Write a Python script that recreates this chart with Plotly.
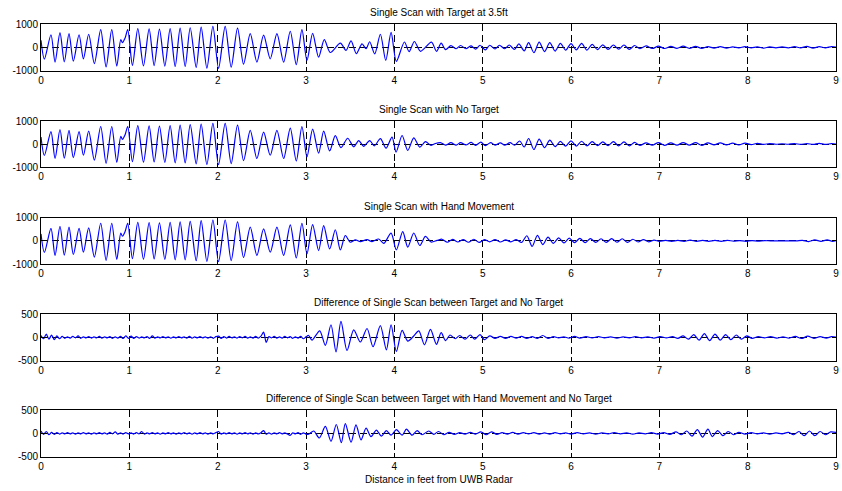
import numpy as np
import plotly.graph_objects as go

# ---------------- data ----------------
TITLES = [
    "Single Scan with Target at 3.5ft",
    "Single Scan with No Target",
    "Single Scan with Hand Movement",
    "Difference of Single Scan between Target and No Target",
    "Difference of Single Scan between Target with Hand Movement and No Target",
]
X_LABEL = "Distance in feet from UWB Radar"
X_TICKS = [0, 1, 2, 3, 4, 5, 6, 7, 8, 9]
Y_TICKS_BIG = [-1000, 0, 1000]
Y_TICKS_SMALL = [-500, 0, 500]

# shared clutter (0 - 3 ft) seen in all three raw scans: (distance, amplitude) extrema
CLUTTER = [(0.000, 300), (0.038, -500), (0.113, 540), (0.159, -630), (0.215, 630), (0.264, -620),
           (0.317, 590), (0.366, -590), (0.431, 540), (0.480, -490), (0.540, 560), (0.604, -700),
           (0.676, 760), (0.737, -840), (0.801, 760), (0.858, -800), (0.903, 330), (0.922, 200),
           (0.952, 400), (0.982, 760), (1.035, -770), (1.096, 800), (1.160, -790), (1.224, 790),
           (1.281, -780), (1.341, 780), (1.402, -800), (1.462, 800), (1.519, -820), (1.575, 820),
           (1.632, -820), (1.689, 840), (1.757, -860), (1.813, 870), (1.878, -890), (1.946, 900),
           (2.010, -900), (2.085, 900), (2.153, -850), (2.225, 820), (2.293, -720), (2.369, 590),
           (2.444, -630), (2.520, 520), (2.595, -490), (2.671, 590), (2.747, -630), (2.822, 690),
           (2.890, -740), (2.954, 760), (3.011, -560)]

TARGET_TAIL = [(3.075, 600), (3.143, -420), (3.207, 330), (3.275, -220), (3.389, 180), (3.453, -130),
               (3.510, 280), (3.570, -270), (3.634, 150), (3.680, -60), (3.721, 240), (3.778, -280),
               (3.842, 560), (3.903, -560), (3.963, 640), (4.023, -600), (4.114, 230), (4.167, -180),
               (4.227, 250), (4.296, -170), (4.420, 220), (4.478, -170), (4.53, 180), (4.58, -100),
               (4.64, 70), (4.70, -60), (4.75, 80), (4.81, -60), (4.87, 60), (4.92, -80), (4.97, 90),
               (5.03, -110), (5.08, 90), (5.14, -70), (5.19, 90), (5.25, -60), (5.30, 100), (5.36, -90),
               (5.41, 150), (5.47, -150), (5.52, 200), (5.58, -230), (5.64, 220), (5.70, -180),
               (5.76, 200), (5.82, -160), (5.88, 170), (5.94, -120), (6.00, 160), (6.06, -110),
               (6.12, 170), (6.18, -120), (6.24, 130), (6.30, -100), (6.36, 110), (6.42, -90),
               (6.48, 100), (6.54, -80), (6.60, 100), (6.66, -90), (6.72, 80), (6.78, -60), (6.85, 60),
               (6.92, -50), (6.99, 50), (7.06, -50), (7.13, 40), (7.20, -40), (7.27, 50), (7.34, -40),
               (7.41, 40), (7.48, -40), (7.55, 30), (7.62, -30), (7.69, 30), (7.76, -30), (7.83, 20),
               (7.90, -20), (7.97, 30), (8.04, -20), (8.11, 20), (8.18, -30), (8.25, 20), (8.32, -20),
               (8.39, 20), (8.46, -20), (8.53, 30), (8.60, -20), (8.67, 40), (8.74, -30), (8.81, 30),
               (8.88, -20), (8.95, 30), (9.00, 10)]

NOTARGET_TAIL = [(3.075, 650), (3.143, -400), (3.200, 560), (3.268, -300), (3.332, 360), (3.396, -160),
                 (3.472, 250), (3.540, -120), (3.597, 150), (3.653, -100), (3.721, 150), (3.774, -80),
                 (3.842, 230), (3.906, -180), (3.974, 300), (4.020, -350), (4.088, 370), (4.152, -280),
                 (4.220, 270), (4.288, -140), (4.352, 100), (4.416, -60), (4.465, 20), (4.522, 60),
                 (4.58, -50), (4.64, 60), (4.70, -50), (4.75, 60), (4.81, -40), (4.87, 70), (4.92, -60),
                 (4.98, 80), (5.03, -70), (5.09, 60), (5.14, -50), (5.20, 50), (5.25, -50), (5.31, 60),
                 (5.36, -50), (5.42, 130), (5.47, -130), (5.52, 240), (5.58, -240), (5.64, 210),
                 (5.70, -160), (5.76, 170), (5.82, -110), (5.88, 110), (5.94, -90), (6.00, 140),
                 (6.06, -90), (6.12, 120), (6.18, -80), (6.24, 100), (6.30, -70), (6.36, 90), (6.42, -70),
                 (6.48, 100), (6.54, -80), (6.60, 90), (6.66, -80), (6.72, 70), (6.78, -60), (6.85, 50),
                 (6.92, -50), (6.99, 60), (7.06, -60), (7.13, 50), (7.20, -50), (7.27, 60), (7.34, -50),
                 (7.41, 60), (7.48, -60), (7.55, 50), (7.62, -40), (7.69, 50), (7.76, -40), (7.83, 40),
                 (7.90, -40), (7.97, 40), (8.04, -30), (8.11, 30), (8.18, -20), (8.25, 20), (8.32, -10),
                 (8.39, 10), (8.46, -10), (8.53, 20), (8.60, -20), (8.67, 20), (8.74, -20), (8.81, 30),
                 (8.88, -20), (8.95, 20), (9.00, 0)]

HAND_TAIL = [(3.075, 700), (3.143, -420), (3.200, 660), (3.268, -350), (3.332, 480), (3.389, -390),
             (3.445, 230), (3.502, -60), (3.559, 40), (3.615, -30), (3.691, 50), (3.748, -30),
             (3.823, 80), (3.880, -110), (3.963, 330), (4.023, -390), (4.095, 400), (4.152, -270),
             (4.220, 340), (4.288, -200), (4.352, 190), (4.416, -50), (4.484, 20), (4.54, 70),
             (4.60, -60), (4.66, 60), (4.72, -50), (4.78, 50), (4.84, -60), (4.90, 70), (4.96, -70),
             (5.02, 50), (5.08, -40), (5.14, 50), (5.20, -50), (5.26, 40), (5.32, -40), (5.38, 50),
             (5.44, -70), (5.50, 220), (5.56, -240), (5.62, 240), (5.68, -160), (5.74, 160),
             (5.80, -110), (5.86, 130), (5.92, -90), (5.98, 120), (6.04, -80), (6.10, 110),
             (6.16, -80), (6.22, 100), (6.28, -70), (6.34, 90), (6.40, -70), (6.46, 100), (6.52, -60),
             (6.58, 90), (6.64, -70), (6.70, 70), (6.76, -50), (6.82, 50), (6.88, -40), (6.94, 30),
             (7.00, -20), (7.07, 20), (7.14, -20), (7.21, 20), (7.28, -20), (7.35, 30), (7.42, -20),
             (7.49, 20), (7.56, -20), (7.63, 20), (7.70, -20), (7.77, 20), (7.84, -10), (7.91, 10),
             (7.98, -20), (8.05, 10), (8.12, -10), (8.19, 10), (8.26, 0), (8.40, 0), (8.55, 0),
             (8.62, 20), (8.69, -30), (8.76, 40), (8.83, -20), (8.90, 40), (8.96, -20), (9.00, 10)]

# difference scans: near-range residual noise sampled evenly over 0-3 ft
DIFF1_NOISE = [40, -30, 70, -40, 50, -50, 30, -30, 20, -20,
               10, -15, 20, -10, 30, -20, 10, -10, 15, -15,
               10, -10, 20, -15, 10, -10, 15, -20, 10, -15,
               20, -25, 30, -20, 25, -20, 15, -15, 10, -10,
               15, -20, 30, -15, 10, -10, 15, -10, 10, -15,
               10, -10, 15, -10, 10, -15, 20, -15, 10, -10,
               15, -10, 10, -15, 10, -20, 15, 25, -20, 15,
               -15, 20, -10, 10, -15, 15, -10, 20, -15, 10,
               -15, 20, -15, 25, 110, -110, 15, -10, 20, -15,
               10, -15, 20, -10, 15, -20, 10, -15, 20, -30,
               10]
DIFF1_TAIL = [(3.030, 40), (3.068, -60), (3.155, 140), (3.219, -170), (3.283, 270), (3.340, -310),
              (3.396, 340), (3.464, -280), (3.540, 160), (3.615, -100), (3.691, 190), (3.759, -200),
              (3.842, 250), (3.910, -270), (3.963, 270), (4.023, -300), (4.088, 150), (4.152, -80),
              (4.220, 30), (4.277, 140), (4.341, -160), (4.409, 170), (4.477, -150), (4.53, 100),
              (4.58, -70), (4.63, 50), (4.69, -30), (4.74, 40), (4.80, -40), (4.86, 50), (4.91, -40),
              (4.97, 60), (5.02, -50), (5.08, 30), (5.14, -20), (5.20, 20), (5.26, -20), (5.32, 20),
              (5.38, -15), (5.44, 20), (5.50, -20), (5.56, 15), (5.62, -20), (5.68, 40), (5.74, -20),
              (5.80, 15), (5.86, -10), (5.92, 10), (5.98, -15), (6.04, 20), (6.10, -15), (6.17, 15),
              (6.24, -10), (6.31, 15), (6.38, -10), (6.45, 10), (6.52, -15), (6.59, 10), (6.66, -10),
              (6.73, 15), (6.80, -10), (6.87, 10), (6.94, -15), (7.01, 15), (7.08, -10), (7.15, 15),
              (7.21, -20), (7.27, 30), (7.33, -40), (7.39, 60), (7.45, -60), (7.51, 80), (7.57, -70),
              (7.63, 70), (7.69, -60), (7.75, 60), (7.81, -50), (7.87, 50), (7.93, -40), (7.99, 30),
              (8.05, -20), (8.12, 15), (8.19, -10), (8.26, 15), (8.33, -15), (8.40, 10), (8.47, -15),
              (8.54, 20), (8.61, -25), (8.68, 25), (8.75, -20), (8.82, 15), (8.89, -15), (8.95, 15),
              (9.00, 5)]

DIFF2_NOISE = [50, -20, 40, -30, 20, -20, 15, -15, 10, -10,
               15, -10, 10, -15, 10, -10, 15, -10, 10, -15,
               10, -10, 15, -10, 10, -15, 20, -10, 30, -15,
               10, -15, 15, -10, 10, -15, 15, -10, 40, -15,
               10, -10, 15, -10, 10, -15, 10, -10, 15, -10,
               10, -15, 10, -10, 15, -10, 10, -15, 10, -10,
               15, -10, 10, -15, 10, -10, 15, 40, -15, 10,
               -10, 15, -10, 10, -15, 10, -10, 15, -10, 10,
               -15, 10, -10, 15, 60, -20, 10, -15, 10, -10,
               15, -10, 10, -15, -45, 10, -10, 15, -20, 10,
               -15]
DIFF2_TAIL = [(3.030, -20), (3.087, 50), (3.151, -100), (3.219, 150), (3.283, -170), (3.343, 190),
              (3.400, -200), (3.445, 210), (3.510, -190), (3.566, 180), (3.623, -140), (3.680, 110),
              (3.736, -70), (3.797, 70), (3.853, -60), (3.910, 60), (3.963, -40), (4.023, 80),
              (4.088, -40), (4.137, 90), (4.201, -40), (4.258, 60), (4.314, -30), (4.390, 50),
              (4.447, -20), (4.50, 40), (4.56, -30), (4.62, 20), (4.68, -20), (4.74, 15), (4.80, -15),
              (4.86, 20), (4.92, -15), (4.98, 30), (5.04, -30), (5.10, 30), (5.16, -20), (5.22, 15),
              (5.28, -15), (5.34, 20), (5.40, -15), (5.46, 15), (5.52, -10), (5.58, 15), (5.64, -15),
              (5.70, 10), (5.76, -15), (5.82, 15), (5.88, -10), (5.94, 10), (6.00, -15), (6.07, 15),
              (6.14, -10), (6.21, 10), (6.28, -15), (6.35, 10), (6.42, -10), (6.49, 15), (6.56, -10),
              (6.63, 10), (6.70, -15), (6.77, 10), (6.84, -10), (6.91, 15), (6.98, -15), (7.05, 15),
              (7.12, -20), (7.19, 30), (7.25, -30), (7.31, 50), (7.37, -60), (7.43, 80), (7.49, -80),
              (7.55, 90), (7.60, -70), (7.66, 60), (7.72, -50), (7.78, 40), (7.84, -30), (7.90, 20),
              (7.97, -15), (8.04, 15), (8.11, -10), (8.18, 10), (8.25, -15), (8.32, 10), (8.39, -10),
              (8.46, 20), (8.52, -30), (8.58, 40), (8.64, -50), (8.70, 50), (8.76, -50), (8.82, 40),
              (8.88, -30), (8.94, 30), (9.00, 20)]

NOISE_END = 3.0  # the evenly sampled noise segment spans 0 .. 3 ft


def from_pairs(*parts):
    xs, ys = [], []
    for part in parts:
        for x, y in part:
            xs.append(x)
            ys.append(y)
    return xs, ys


def from_noise(values, tail):
    xs = list(np.linspace(0, NOISE_END, len(values)))
    ys = list(values)
    tx, ty = from_pairs(tail)
    return xs + tx, ys + ty


series = [
    from_pairs(CLUTTER, TARGET_TAIL),
    from_pairs(CLUTTER, NOTARGET_TAIL),
    from_pairs(CLUTTER, HAND_TAIL),
    from_noise(DIFF1_NOISE, DIFF1_TAIL),
    from_noise(DIFF2_NOISE, DIFF2_TAIL),
]
y_ticks = [Y_TICKS_BIG, Y_TICKS_BIG, Y_TICKS_BIG, Y_TICKS_SMALL, Y_TICKS_SMALL]

# ---------------- layout ----------------
W, H = 842, 491
TOPS = [24, 121, 217.7, 314, 410]
BOTS = [70.7, 167, 264, 360.7, 456.7]
FONT = "Liberation Sans, Arial, Helvetica, sans-serif"

fig = go.Figure()
layout = dict(
    template="none",
    width=W, height=H,
    margin=dict(l=41, r=6, t=0, b=0, pad=0, autoexpand=False),
    paper_bgcolor="white", plot_bgcolor="white",
    showlegend=False,
    font=dict(family=FONT, size=10, color="black"),
)
annotations = []
for i, ((xs, ys), yt) in enumerate(zip(series, y_ticks)):
    n = i + 1
    xa = "x" if n == 1 else f"x{n}"
    ya = "y" if n == 1 else f"y{n}"
    fig.add_trace(go.Scatter(x=xs, y=ys, mode="lines", xaxis=xa, yaxis=ya,
                             line=dict(color="#0000ff", width=1.2, shape="spline", smoothing=0.8),
                             hoverinfo="skip"))
    common = dict(showline=True, linecolor="black", linewidth=1, mirror="ticks",
                  ticks="inside", ticklen=4, tickcolor="black", tickwidth=1,
                  showgrid=True, gridcolor="black", gridwidth=1, griddash="7px,4px",
                  zeroline=False, automargin=False,
                  tickfont=dict(family=FONT, size=10, color="black"))
    layout["xaxis" if n == 1 else f"xaxis{n}"] = dict(
        common, domain=[0, 1], anchor=ya, range=[X_TICKS[0], X_TICKS[-1]],
        tickvals=X_TICKS, ticktext=[str(v) for v in X_TICKS])
    layout["yaxis" if n == 1 else f"yaxis{n}"] = dict(
        common, domain=[1 - BOTS[i] / H, 1 - TOPS[i] / H], anchor=xa,
        range=[yt[0], yt[-1]], tickvals=yt, ticktext=[str(v) for v in yt])
    annotations.append(dict(text=TITLES[i], xref="paper", yref="paper", x=0.5,
                            y=1 - (TOPS[i] - 11.5) / H, xanchor="center", yanchor="middle",
                            showarrow=False, font=dict(family=FONT, size=10, color="black")))
annotations.append(dict(text=X_LABEL, xref="paper", yref="paper", x=0.5, y=1 - 479.5 / H,
                        xanchor="center", yanchor="middle", showarrow=False,
                        font=dict(family=FONT, size=10, color="black")))
layout["annotations"] = annotations
fig.update_layout(**layout)
fig.write_html("out.html")
